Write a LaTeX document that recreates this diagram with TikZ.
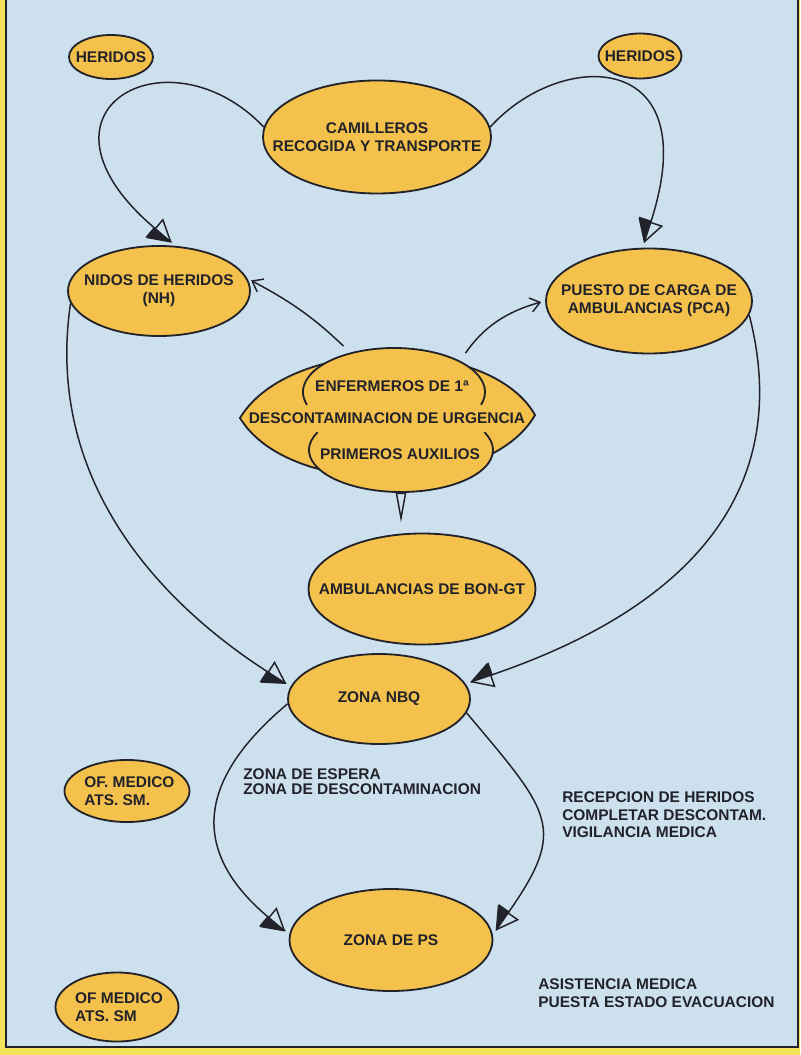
\documentclass[tikz,border=0pt]{standalone}
\usepackage{fontspec}
\setsansfont{Liberation Sans}
\usetikzlibrary{arrows.meta, positioning, shapes.geometric}
\definecolor{panel}{HTML}{CCE0EE}
\definecolor{margin}{HTML}{F2E35A}
\definecolor{ochre}{HTML}{F4C24C}
\definecolor{ink}{HTML}{22222A}

\begin{document}
\begin{tikzpicture}[x=0.25mm, y=-0.25mm, font=\sffamily\bfseries\fontsize{11}{13}\selectfont,
    zone/.style 2 args={ellipse, draw=ink, line width=1.3pt, fill=ochre, inner sep=0pt, minimum width=#1, minimum height=#2},
    lbl/.style={text=ink, align=center, inner sep=0pt},
    edge/.style={draw=ink, line width=1.05pt},
    big/.style={edge, shorten >=1.2mm, -{Triangle[right, length=5.6mm, width=6.4mm, sep=-5.6mm] Triangle[open, length=5.6mm, width=6.4mm]}},
    thin/.style={edge, shorten <=2.5mm, shorten >=1mm, -{Straight Barb[length=2.4mm, width=3.6mm]}}]

  \useasboundingbox (0,0) rectangle (800,1055);
  % frame
  \fill[margin] (0,0) rectangle (800,1055);
  \filldraw[fill=panel, draw=ink, line width=1.2pt] (6,-8) rectangle (798,1047);

  % the zones
  \node[zone={21mm}{11mm}, label={[lbl]center:HERIDOS}] (herL) at (111,57) {};
  \node[zone={20.75mm}{11.25mm}, label={[lbl]center:HERIDOS}] (herR) at (640,56) {};
  \node[zone={57mm}{28.25mm}, label={[lbl]center:CAMILLEROS\\RECOGIDA Y TRANSPORTE}] (cam) at (377,137) {};
  \node[zone={45.5mm}{22.5mm}, label={[lbl]center:NIDOS DE HERIDOS\\(NH)}] (nh) at (159,291) {};
  \node[zone={51.5mm}{26.25mm}, label={[lbl]center:PUESTO DE CARGA DE\\AMBULANCIAS (PCA)}] (pca) at (649,301) {};
  \node[zone={56.75mm}{27.75mm}, label={[lbl]center:AMBULANCIAS DE BON-GT}] (amb) at (422,589) {};
  \node[zone={45.5mm}{22.5mm}, label={[lbl]center:ZONA NBQ}] (nbq) at (379,699) {};
  \node[zone={50.75mm}{25.5mm}, label={[lbl]center:ZONA DE PS}] (ps) at (391,940) {};
  \node[zone={31.25mm}{15.5mm}, label={[lbl, align=left, xshift=0.6mm]center:OF. MEDICO\\ATS. SM.}] (ofA) at (127,791) {};
  \node[zone={30.75mm}{17.25mm}, label={[lbl, align=left, xshift=0.5mm]center:OF MEDICO\\ATS. SM}] (ofB) at (117,1007) {};

  % the first-aid group
  \filldraw[fill=ochre, draw=ink, line width=1.3pt] (240,418) .. controls (290,335) and (490,335) .. (535,415)
    .. controls (490,495) and (290,500) .. (240,418) -- cycle;
  \node[ellipse, fill=ochre, inner sep=0pt, minimum width=45.5mm, minimum height=22mm] (enf) at (394,392) {};
  \node[ellipse, fill=ochre, inner sep=0pt, minimum width=46mm, minimum height=21mm] (aux) at (401,450) {};
  \draw[edge, line width=1.3pt] ([shift={(-17:22.75mm and 11mm)}]enf.center)
    arc[start angle=-17, end angle=197, x radius=22.75mm, y radius=11mm];
  \draw[edge, line width=1.3pt] ([shift={(155:23mm and 10.5mm)}]aux.center)
    arc[start angle=155, end angle=385, x radius=23mm, y radius=10.5mm];
  \node[lbl] at (392,386) {ENFERMEROS DE 1ª};
  \node[lbl] (desc) at (387,418) {DESCONTAMINACION DE URGENCIA};
  \node[lbl] at (400,454) {PRIMEROS AUXILIOS};

  % connectors
  \draw[big] (cam.175) .. controls +(-95,-100) and +(-160,-136) .. (nh.70);
  \draw[big] (cam.5) .. controls +(70,-78) and +(65,-200) .. (pca.97);
  \draw[thin] (enf.138) to[bend right=8] (nh.8);
  \draw[thin] (enf.25) to[bend left=20] (pca.west);
  \draw[edge, shorten >=2.5mm, -{Triangle[open, length=7.5mm, width=2.6mm]}] (aux.south) -- (aux.south |- amb.north);
  \draw[big] (nh.188) .. controls +(-25,170) and +(-140,-90) .. (nbq.172);
  \draw[big] (pca.-8) .. controls +(40,155) and +(250,-85) .. (nbq.10);
  \draw[big] (nbq.183) to[out=220, in=140, looseness=1.38] (ps.177);
  \draw[big] (nbq.-9) to[out=-50, in=55, looseness=1.5] (ps.3);

  % notes
  \node[lbl, align=left, anchor=west, font=\sffamily\bfseries\fontsize{11}{10.5}\selectfont] (wait) at (243,782)
    {ZONA DE ESPERA\\ZONA DE DESCONTAMINACION};
  \node[lbl, align=left, anchor=west, font=\sffamily\bfseries\fontsize{11}{12.5}\selectfont] (recep) at (562,815)
    {RECEPCION DE HERIDOS\\COMPLETAR DESCONTAM.\\VIGILANCIA MEDICA};
  \node[lbl, align=left, anchor=west, font=\sffamily\bfseries\fontsize{11}{12.5}\selectfont] (asist) at (538,993)
    {ASISTENCIA MEDICA\\PUESTA ESTADO EVACUACION};
\end{tikzpicture}
\end{document}
